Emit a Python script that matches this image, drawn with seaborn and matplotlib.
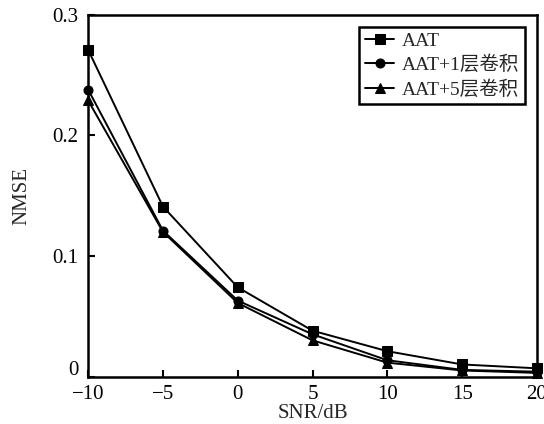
import numpy as np
import pandas as pd
import matplotlib
matplotlib.use("Agg")
import matplotlib.pyplot as plt
import matplotlib.transforms as mtransforms
import seaborn as sns

snr = [-10, -5, 0, 5, 10, 15, 20]
nmse_aat = [0.271, 0.141, 0.074, 0.038, 0.021, 0.010, 0.0068]
nmse_conv1 = [0.238, 0.121, 0.063, 0.035, 0.0135, 0.0055, 0.004]
nmse_conv5 = [0.229, 0.120, 0.061, 0.030, 0.0115, 0.005, 0.003]
series_names = ["AAT", "AAT+1层卷积", "AAT+5层卷积"]
markers = ["s", "o", "^"]

sns.set_theme(style="ticks")
plt.rcParams["font.family"] = ["Liberation Serif", "Noto Sans CJK SC"]
plt.rcParams["axes.unicode_minus"] = True

df = pd.DataFrame({
    "SNR": snr * 3,
    "NMSE": nmse_aat + nmse_conv1 + nmse_conv5,
    "series": sum([[n] * len(snr) for n in series_names], []),
})

fig = plt.figure(figsize=(5.44, 4.24), dpi=100)
ax = fig.add_axes([0.162, 0.112, 0.825, 0.853])

for name, m in zip(series_names, markers):
    sub = df[df["series"] == name]
    sns.lineplot(data=sub, x="SNR", y="NMSE", ax=ax, color="black",
                 marker=m, markersize=6.5, markeredgecolor="black",
                 linewidth=1.4, label=name, clip_on=False)

ax.set_xlim(-10, 20)
ax.set_ylim(0, 0.3)
ax.set_xticks([-10, -5, 0, 5, 10, 15, 20])
ax.set_xticklabels(["\u221210", "\u22125", "0", "5", "10", "15", "20"])
ax.set_yticks([0, 0.1, 0.2, 0.3])
ax.set_yticklabels(["0", "0.1", "0.2", "0.3"])
ax.tick_params(direction="in", length=5, width=1.5, labelsize=15,
               colors="black")
ax.tick_params(axis="x", pad=6)
ax.tick_params(axis="y", pad=7)
for sp in ax.spines.values():
    sp.set_linewidth(1.8)
    sp.set_color("black")
ax.set_xlabel("SNR/dB", fontsize=15, labelpad=0)
ax.set_ylabel("NMSE", fontsize=15, labelpad=15)

# lift the y-axis "0" a little so it clears the "−10" below it
zero_lbl = ax.get_yticklabels()[0]
zero_lbl.set_transform(zero_lbl.get_transform() +
                       mtransforms.ScaledTranslation(0, 6 / 72, fig.dpi_scale_trans))

leg = ax.legend(loc="upper right", fontsize=14, frameon=True, fancybox=False,
                edgecolor="black", handlelength=1.5, handletextpad=0.4,
                borderpad=0.3, labelspacing=0.3, borderaxespad=0.6)
leg.get_frame().set_linewidth(1.8)
leg.get_frame().set_alpha(1)

fig.savefig("out.png", dpi=100)
